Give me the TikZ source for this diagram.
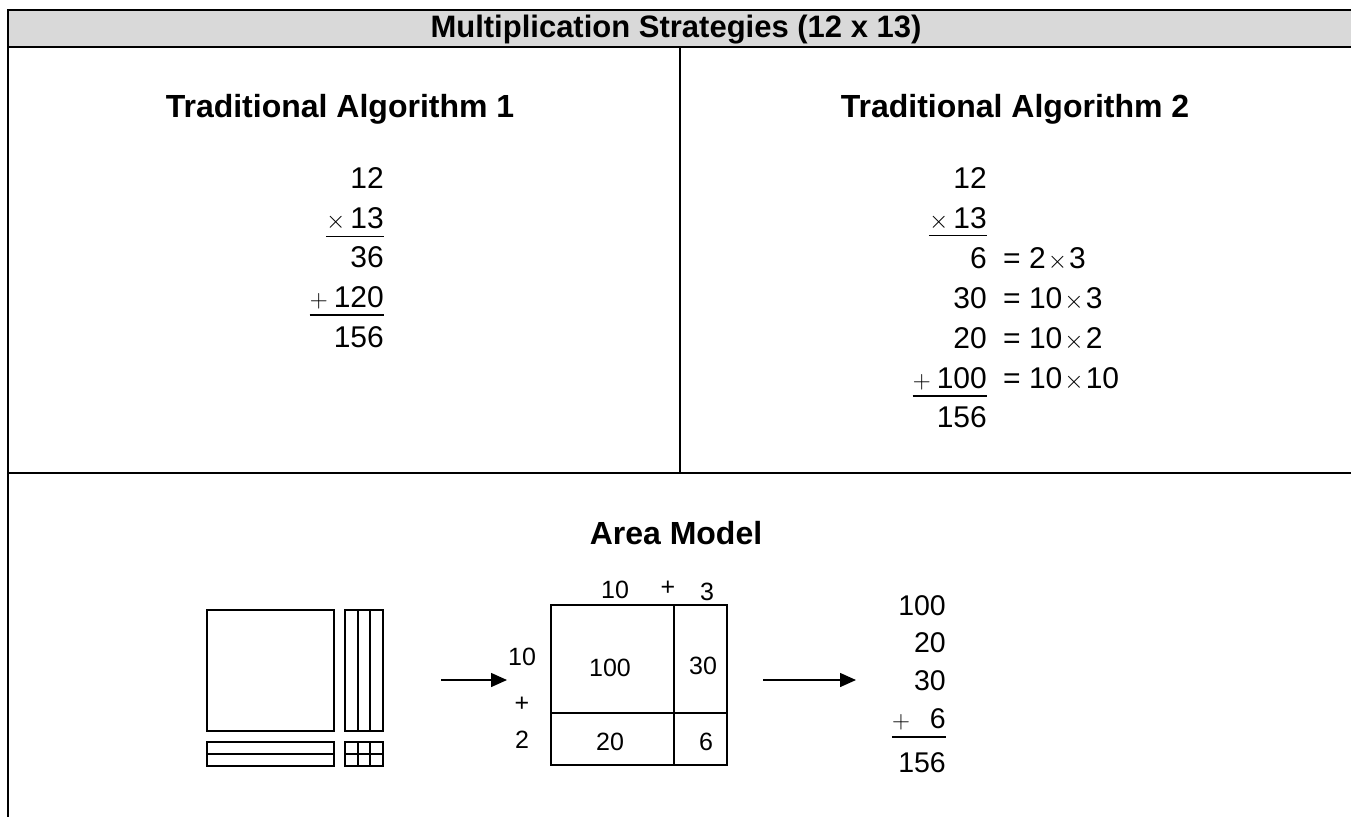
\documentclass[tikz,border=0pt]{standalone}
\usepackage{fontspec}
\setmainfont{Liberation Sans}
\usetikzlibrary{arrows.meta}
\definecolor{hdrgray}{HTML}{D9D9D9}
\begin{document}
\begin{tikzpicture}[x=1pt,y=-1pt,
  tbl/.style={line width=2pt},
  blk/.style={line width=1.6pt},
  ttl/.style={font=\fontsize{31}{36}\selectfont\bfseries, inner sep=0},
  sub/.style={font=\fontsize{32}{38}\selectfont\bfseries, inner sep=0},
  num/.style={font=\fontsize{30}{36}\selectfont, inner sep=0, anchor=base east},
  sumn/.style={font=\fontsize{28.5}{34}\selectfont, inner sep=0, anchor=base east},
  eqn/.style={font=\fontsize{30}{36}\selectfont, inner sep=0, anchor=base west},
  lbl/.style={font=\fontsize{25}{30}\selectfont, inner sep=0},
  ul/.style={line width=1.5pt},
  arr/.style={line width=1.5pt, -{Triangle[length=16pt,width=14pt]}}
]
\useasboundingbox (0,0) rectangle (1351,816);
% table
\fill[hdrgray] (7.5,10) rectangle (1360,47.5);
\draw[tbl] (1360,10) -- (7.5,10) -- (7.5,830);
\draw[tbl] (7.5,47.5) -- (1360,47.5);
\draw[tbl] (680,47.5) -- (680,473);
\draw[tbl] (7.5,473) -- (1360,473);
% titles
\node[ttl] (title) at (676,29.5) {Multiplication Strategies (12 x 13)};
\node[sub] (alg1) at (340,109) {Traditional Algorithm 1};
\node[sub] (alg2) at (1015,109) {Traditional Algorithm 2};
\node[sub] (area) at (676,533) {Area Model};
% algorithm 1
\node[num] (a1) at (384,188) {12};
\node[num] (a2) at (384,228) {$\times$\hspace{5pt}13};
\draw[ul] ([yshift=-6pt]a2.south west) -- ([yshift=-6pt]a2.south east);
\node[num] (a3) at (384,267) {36};
\node[num] (a4) at (384,307) {$+$\hspace{6pt}120};
\draw[ul] ([yshift=-6pt]a4.south west) -- ([yshift=-6pt]a4.south east);
\node[num] (a5) at (384,347) {156};
% algorithm 2
\node[num] (b1) at (987,188) {12};
\node[num] (b2) at (987,228) {$\times$\hspace{5pt}13};
\draw[ul] ([yshift=-5pt]b2.south west) -- ([yshift=-5pt]b2.south east);
\node[num] (b3) at (987,268) {6};
\node[num] (b4) at (987,308) {30};
\node[num] (b5) at (987,348) {20};
\node[num] (b6) at (987,388) {$+$\hspace{6pt}100};
\draw[ul] ([yshift=-6pt]b6.south west) -- ([yshift=-6pt]b6.south east);
\node[num] (b7) at (987,427) {156};
\node[eqn] (e3) at (1003,268) {= 2\hspace{2pt}$\times$\hspace{2pt}3};
\node[eqn] (e4) at (1003,308) {= 10\hspace{2pt}$\times$\hspace{2pt}3};
\node[eqn] (e5) at (1003,348) {= 10\hspace{2pt}$\times$\hspace{2pt}2};
\node[eqn] (e6) at (1003,388) {= 10\hspace{2pt}$\times$\hspace{2pt}10};
% base-ten blocks
\draw[blk] (207,610) rectangle (334,731);
\draw[blk] (345,610) rectangle (383,731);
\draw[blk] (358,610) -- (358,731) (370,610) -- (370,731);
\draw[blk] (207,742) rectangle (334,766);
\draw[blk] (207,754) -- (334,754);
\draw[blk] (345,742) rectangle (383,766);
\draw[blk] (358,742) -- (358,766) (370,742) -- (370,766) (345,754) -- (383,754);
% arrow 1
\coordinate (r1s) at (441,680);
\coordinate (r1e) at (507,680);
\draw[arr] (r1s) -- (r1e);
% area box
\draw[blk] (551,605) rectangle (727,765);
\draw[blk] (674,605) -- (674,765) (551,713) -- (727,713);
\node[lbl] (t10) at (615,590) {10};
\node[lbl] (tp) at (668,588) {+};
\node[lbl] (t3) at (707,592) {3};
\node[lbl] (l10) at (522,657) {10};
\node[lbl] (lp) at (522,704) {+};
\node[lbl] (l2) at (522,740) {2};
\node[lbl] (c100) at (610,668) {100};
\node[lbl] (c30) at (703,666) {30};
\node[lbl] (c20) at (610,742) {20};
\node[lbl] (c6) at (706,742) {6};
% arrow 2
\coordinate (r2s) at (763,680);
\coordinate (r2e) at (856,680);
\draw[arr] (r2s) -- (r2e);
% sum
\node[sumn] (s1) at (946,615) {100};
\node[sumn] (s2) at (946,652) {20};
\node[sumn] (s3) at (946,690) {30};
\node[sumn] (s4) at (946,728) {$+$\hspace{20pt}6};
\draw[ul] ([yshift=-7pt]s4.south west) -- ([yshift=-7pt]s4.south east);
\node[sumn] (s5) at (946,772) {156};
\end{tikzpicture}
\end{document}
